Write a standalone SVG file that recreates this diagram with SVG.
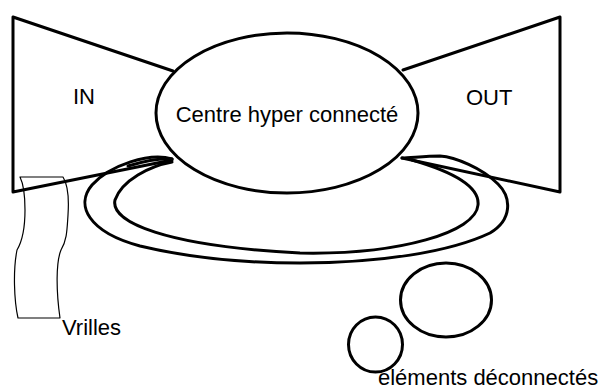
<svg xmlns="http://www.w3.org/2000/svg" width="603" height="390" viewBox="0 0 603 390">
<style>
.thick{fill:none;stroke:#000;stroke-width:3;stroke-linejoin:round;stroke-linecap:round}
.thin{fill:none;stroke:#000;stroke-width:1.2;stroke-linejoin:round}
.lbl{font-family:"Liberation Sans",Arial,sans-serif;font-size:22px;fill:#000}
</style>
<rect width="603" height="390" fill="#fff"/>
<g id="in">
<polyline class="thick" points="173,71 13,17 13,192 172,160"/>
<text class="lbl" x="73" y="104">IN</text>
</g>
<g id="out">
<polyline class="thick" points="403,70 560,17 560,192 402,158"/>
<text class="lbl" x="466" y="105">OUT</text>
</g>
<g id="connectors">
<path class="thick" d="M172,159 C150,152 110,165 92,185 C75,205 88,232 140,246 C190,258 250,263 300,263 C380,263 450,252 490,233 C512,220 512,198 498,184 C482,168 455,157 440,156 C425,156 410,158 402,158"/>
<path class="thick" d="M172,159 C160,158 145,161 128,166"/>
<path class="thick" d="M172,162 C150,166 122,180 115,200 C110,222 165,246 300,253 C400,255 476,232 478,205 C480,186 450,171 412,160"/>
<path class="thin" d="M20,177 L63,177 C68,185 69,200 68,215 C67,230 67,240 61,250 C56,262 56,290 60,318 L18,318 C14,300 13,270 17,250 C23,240 25,225 25,210 C25,195 24,185 20,177 Z"/>
</g>
<g id="centre">
<ellipse class="thick" cx="287" cy="113" rx="131" ry="80" fill="#fff"/>
<text class="lbl" x="287" y="122" text-anchor="middle">Centre hyper connecté</text>
</g>
<g id="vrilles">
<text class="lbl" x="62" y="335">Vrilles</text>
</g>
<g id="elements">
<ellipse class="thick" cx="375.5" cy="344.5" rx="27" ry="27.5" fill="none"/>
<ellipse class="thick" cx="446" cy="300" rx="45.5" ry="37" fill="none"/>
<text class="lbl" x="378" y="385">éléments déconnectés</text>
</g>
</svg>
